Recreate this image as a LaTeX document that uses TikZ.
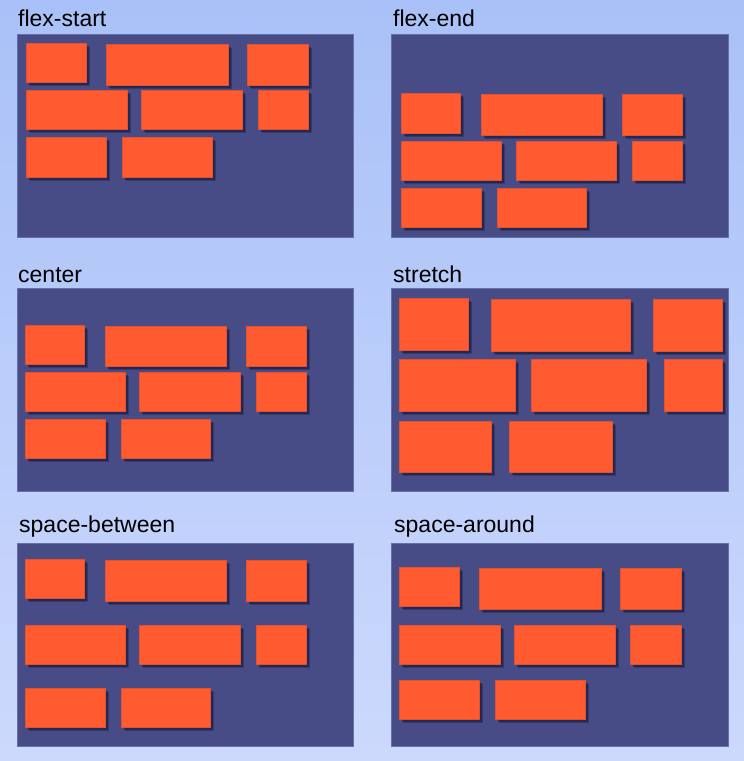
\documentclass[tikz,border=0pt]{standalone}
\usepackage{fontspec}
\setmainfont{Liberation Sans}
\usetikzlibrary{fit,shadows}
\definecolor{bgtop}{HTML}{A9C1F8}
\definecolor{bgbot}{HTML}{CCD9FC}
\definecolor{panelfill}{HTML}{474C87}
\definecolor{paneledge}{HTML}{6670A8}
\definecolor{brickfill}{HTML}{FF5A30}
\definecolor{brickedge}{HTML}{E0522E}
\definecolor{shadowcol}{HTML}{15173A}
\tikzset{
  panelbox/.style={fill=panelfill, draw=paneledge, line width=0.8pt, inner sep=0pt, outer sep=0pt},
  brick/.style={fill=brickfill, draw=brickedge, line width=0.7pt, inner sep=0pt, outer sep=0pt,
    general shadow={fill=shadowcol, opacity=0.35, shadow xshift=3.5pt, shadow yshift=-3.5pt},
    general shadow={fill=shadowcol, opacity=0.5, shadow xshift=2.5pt, shadow yshift=-2.5pt}},
  paneltitle/.style={anchor=base west, inner sep=0pt, font=\fontsize{23}{23}\selectfont, text=black}
}
\newcommand\brk[5]{\node[brick, fit={(#2,#3) (#4,#5)}] (#1) {};}
\newcommand\pnl[5]{\node[panelbox, fit={(#2,#3) (#4,#5)}] (#1) {};}
\begin{document}
\begin{tikzpicture}[x=1pt, y=-1pt]
\useasboundingbox (0,0) rectangle (744,761);
\shade[top color=bgtop, bottom color=bgbot] (0,0) rectangle (744,761);

% panels
\pnl{pA}{17}{34}{353}{237}
\pnl{pB}{391}{34}{728}{237}
\pnl{pC}{17}{288}{353}{491}
\pnl{pD}{391}{288}{728}{491}
\pnl{pE}{17}{543}{353}{746}
\pnl{pF}{391}{543}{728}{746}

% titles
\node[paneltitle] (tA) at (18,26) {flex-start};
\node[paneltitle] (tB) at (393,26) {flex-end};
\node[paneltitle] (tC) at (18,282) {center};
\node[paneltitle] (tD) at (393,282) {stretch};
\node[paneltitle] (tE) at (19,532) {space-between};
\node[paneltitle] (tF) at (394,532) {space-around};

% flex-start
\brk{a1}{26}{43}{86}{82}
\brk{a2}{106}{44}{228}{85}
\brk{a3}{247}{44}{308}{85}
\brk{a4}{26}{90}{127}{129}
\brk{a5}{141}{90}{242}{129}
\brk{a6}{258}{90}{308}{129}
\brk{a7}{26}{137}{106}{177}
\brk{a8}{122}{137}{212}{177}

% flex-end
\brk{b1}{401}{93}{460}{133}
\brk{b2}{481}{94}{602}{135}
\brk{b3}{622}{94}{682}{135}
\brk{b4}{401}{141}{501}{180}
\brk{b5}{516}{141}{616}{180}
\brk{b6}{632}{141}{682}{180}
\brk{b7}{401}{188}{481}{227}
\brk{b8}{497}{188}{586}{227}

% center
\brk{c1}{25}{325}{84}{364}
\brk{c2}{105}{326}{226}{366}
\brk{c3}{246}{326}{306}{366}
\brk{c4}{25}{372}{125}{411}
\brk{c5}{139}{372}{240}{411}
\brk{c6}{256}{372}{306}{411}
\brk{c7}{25}{419}{105}{458}
\brk{c8}{121}{419}{210}{458}

% stretch
\brk{d1}{399}{298}{468}{350}
\brk{d2}{491}{299}{630}{351}
\brk{d3}{653}{299}{722}{351}
\brk{d4}{399}{359}{515}{411}
\brk{d5}{531}{359}{646}{411}
\brk{d6}{664}{359}{722}{411}
\brk{d7}{399}{421}{491}{472}
\brk{d8}{509}{421}{612}{472}

% space-between
\brk{e1}{25}{559}{84}{598}
\brk{e2}{105}{560}{226}{601}
\brk{e3}{246}{560}{306}{601}
\brk{e4}{25}{625}{125}{664}
\brk{e5}{139}{625}{240}{664}
\brk{e6}{256}{625}{306}{664}
\brk{e7}{25}{688}{105}{727}
\brk{e8}{121}{688}{210}{727}

% space-around
\brk{f1}{399}{567}{459}{606}
\brk{f2}{479}{568}{601}{609}
\brk{f3}{620}{568}{681}{609}
\brk{f4}{399}{625}{500}{664}
\brk{f5}{514}{625}{615}{664}
\brk{f6}{630}{625}{681}{664}
\brk{f7}{399}{680}{479}{719}
\brk{f8}{495}{680}{585}{719}
\end{tikzpicture}
\end{document}
